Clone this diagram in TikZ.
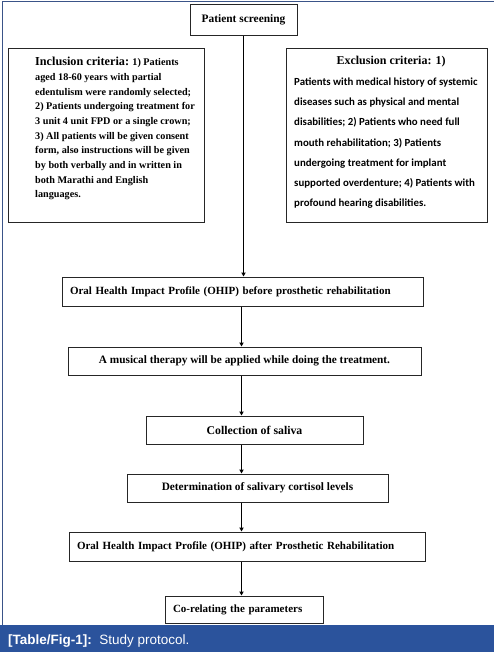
\documentclass[tikz,border=0pt]{standalone}
\usepackage{fontspec}
\setmainfont{Liberation Serif}
\newfontfamily\calib{Carlito}
\newfontfamily\arialf{Liberation Sans}
\usetikzlibrary{arrows.meta}
\definecolor{capblue}{HTML}{2B539C}
\definecolor{framecol}{HTML}{3A5488}
\newcommand{\fsz}[1]{\bfseries\fontsize{#1}{13}\selectfont}
\begin{document}
\begin{tikzpicture}[x=1pt,y=-1pt,
  box/.style={draw=black!85, line width=1pt, inner sep=0pt, anchor=center,
    font=\fsz{11}},
  leftbox/.style={box, inner xsep=8pt, align=left},
  arr/.style={line width=1pt, -{Triangle[length=4pt,width=4.2pt]}},
  txt/.style={inner sep=0pt, anchor=base west}]
\useasboundingbox (0,0) rectangle (494,652);
% frame and caption bar
\draw[framecol, line width=1.2pt] (2.5,625) -- (2.5,1.5) -- (494,1.5);
\fill[capblue] (0,625) rectangle (494,652);
\node[txt, text=white, font=\arialf\fontsize{13.5}{15}\selectfont] (cap) at (8,644)
  {\textbf{[Table/Fig-1]:}\ \ Study protocol.};
% boxes
\node[box, minimum width=107pt, minimum height=31pt, font=\fsz{11.4}] (ps) at (243.5,20) {Patient screening};
\node[box, minimum width=196pt, minimum height=173pt] (inc) at (106,135.5) {};
\node[box, minimum width=201pt, minimum height=173pt] (exc) at (386.5,135.5) {};
\node[txt] (inct) at (35,65.7) {\parbox[t]{175pt}{\raggedright\bfseries\fontsize{10.2}{14.7}\selectfont
  \lineskiplimit=-20pt
  {\fontsize{12.2}{14.7}\selectfont Inclusion criteria:} 1) Patients\\
  aged 18-60 years with partial\\
  edentulism were randomly selected;\\
  2) Patients undergoing treatment for\\
  3 unit 4 unit FPD or a single crown;\\
  3) All patients will be given consent\\
  form, also instructions will be given\\
  by both verbally and in written in\\
  both Marathi and English\\
  languages.}};
\node[inner sep=0pt, anchor=base, font=\bfseries\fontsize{12}{14}\selectfont] (exct) at (391,65) {Exclusion criteria: 1)};
\node[txt] (excb) at (294,85.8) {\parbox[t]{192pt}{\raggedright\calib\bfseries\fontsize{10.85}{20.1}\selectfont
  \lineskiplimit=-20pt
  Patients with medical history of systemic\\
  diseases such as physical and mental\\
  disabilities; 2) Patients who need full\\
  mouth rehabilitation; 3) Patients\\
  undergoing treatment for implant\\
  supported overdenture; 4) Patients with\\
  profound hearing disabilities.}};
\node[leftbox, text width=345pt, minimum height=29pt, font=\fsz{11}] (o1) at (242.5,291.5)
  {Oral Health Impact Profile (OHIP) before prosthetic rehabilitation};
\node[box, minimum width=353pt, minimum height=28pt, font=\fsz{11.3}] (mu) at (244.5,361)
  {A musical therapy will be applied while doing the treatment.};
\node[box, minimum width=217pt, minimum height=28pt, font=\fsz{11.8}] (co) at (254.5,430)
  {Collection of saliva};
\node[box, minimum width=261pt, minimum height=28pt, font=\fsz{11.3}] (de) at (257.5,488)
  {Determination of salivary cortisol levels};
\node[leftbox, text width=340pt, minimum height=29pt, font=\fsz{11}] (o2) at (247,546.5)
  {Oral Health Impact Profile (OHIP) after Prosthetic Rehabilitation};
\node[leftbox, text width=142pt, minimum height=27pt, font=\fsz{11}] (cr) at (244,609.5)
  {Co-relating the parameters};
% arrows
\coordinate (ax) at (241.5,0);
\draw[arr] (ps.south) -- (ps.south |- o1.north);
\draw[arr] (o1.south -| ax) -- (mu.north -| ax);
\draw[arr] (mu.south -| ax) -- (co.north -| ax);
\draw[arr] (co.south -| ax) -- (de.north -| ax);
\draw[arr] (de.south -| ax) -- (o2.north -| ax);
\draw[arr] (o2.south -| ax) -- (cr.north -| ax);
\end{tikzpicture}
\end{document}
